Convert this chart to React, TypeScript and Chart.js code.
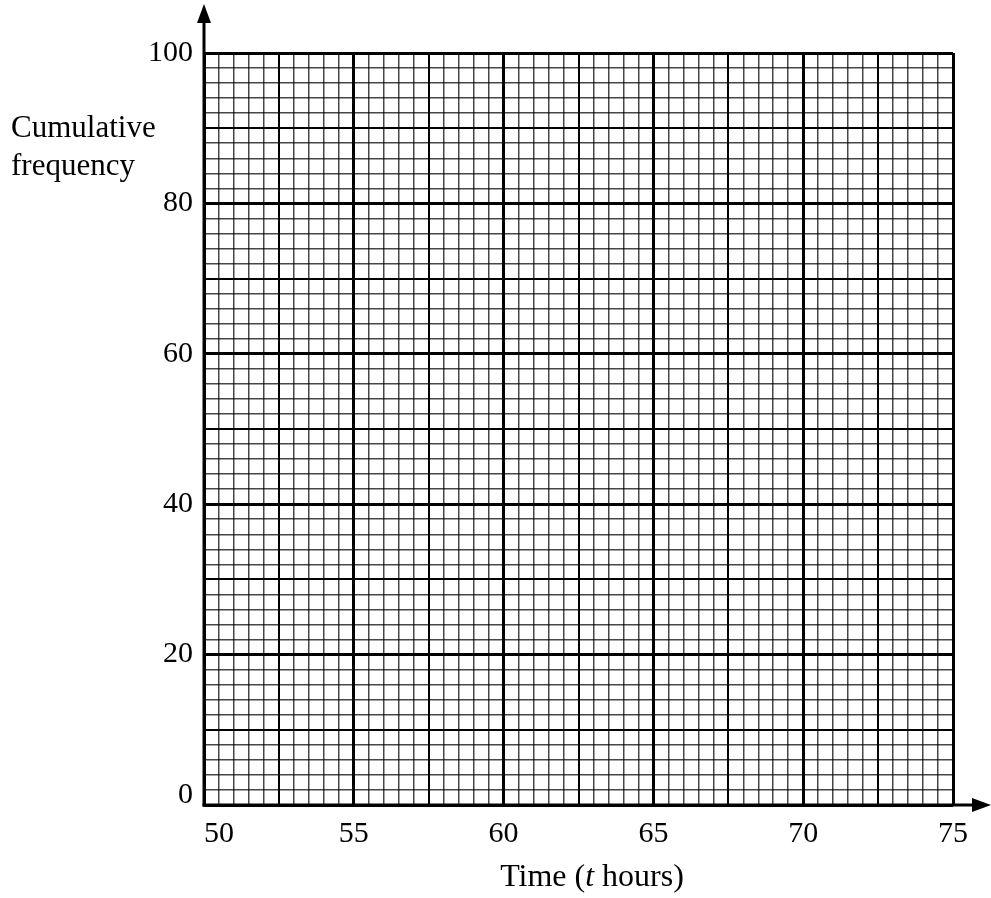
import React, { useEffect, useRef } from 'react';
import { Chart, registerables } from 'chart.js';

Chart.register(...registerables);

// Axis ranges and grid steps
const xMin = 50;
const xMax = 75;
const xMinorStep = 0.5;
const yMin = 0;
const yMax = 100;
const yMinorStep = 2;

// Labelled (major) ticks and medium grid lines
const xLabelTicks = [50, 55, 60, 65, 70, 75];
const xMediumTicks = [52.5, 57.5, 62.5, 67.5, 72.5];
const yLabelTicks = [0, 20, 40, 60, 80, 100];
const yMediumTicks = [10, 30, 50, 70, 90];

// Blank cumulative frequency graph: no plotted points
const cumulativeFrequency: { x: number; y: number }[] = [];

// Titles
const yTitleLines = ['Cumulative', 'frequency'];
const xTitleParts = ['Time (', 't', ' hours)'];

const FONT = '"Liberation Serif", "Times New Roman", serif';

const isIn = (arr: number[], v: number) => arr.some((a) => Math.abs(a - v) < 1e-6);

function gridColor(major: number[], medium: number[]) {
  return (ctx: any) => {
    const v = ctx.tick ? ctx.tick.value : NaN;
    if (isIn(major, v) || isIn(medium, v)) return '#000';
    return 'rgba(0,0,0,0.72)';
  };
}
function gridWidth(major: number[], medium: number[]) {
  return (ctx: any) => {
    const v = ctx.tick ? ctx.tick.value : NaN;
    if (isIn(major, v)) return 3;
    if (isIn(medium, v)) return 2;
    return 1.5;
  };
}

const axesPlugin = {
  id: 'axesAndTitles',
  afterDraw(chart: any) {
    const { ctx, chartArea } = chart;
    const { left, bottom } = chartArea;
    const W = chart.width;
    ctx.save();
    ctx.strokeStyle = '#000';
    ctx.fillStyle = '#000';
    ctx.lineWidth = 3;
    // y axis with arrow
    ctx.beginPath();
    ctx.moveTo(left, bottom + 1.5);
    ctx.lineTo(left, 20);
    ctx.stroke();
    ctx.beginPath();
    ctx.moveTo(left, 4);
    ctx.lineTo(left - 7, 23);
    ctx.lineTo(left + 7, 23);
    ctx.closePath();
    ctx.fill();
    // x axis with arrow
    ctx.beginPath();
    ctx.moveTo(left - 1.5, bottom);
    ctx.lineTo(W - 14, bottom);
    ctx.stroke();
    ctx.beginPath();
    ctx.moveTo(W, bottom);
    ctx.lineTo(W - 19, bottom - 7);
    ctx.lineTo(W - 19, bottom + 7);
    ctx.closePath();
    ctx.fill();

    // y title (horizontal, top-left)
    ctx.font = `31px ${FONT}`;
    ctx.textAlign = 'left';
    ctx.textBaseline = 'alphabetic';
    ctx.fillText(yTitleLines[0], 11, 137);
    ctx.fillText(yTitleLines[1], 11, 175);

    // x title with italic t
    const fonts = [`32px ${FONT}`, `italic 32px ${FONT}`, `32px ${FONT}`];
    let total = 0;
    const widths = xTitleParts.map((p, i) => {
      ctx.font = fonts[i];
      const w = ctx.measureText(p).width;
      total += w;
      return w;
    });
    let x = 592 - total / 2;
    xTitleParts.forEach((p, i) => {
      ctx.font = fonts[i];
      ctx.fillText(p, x, 886);
      x += widths[i];
    });
    ctx.restore();
  },
};

export default function App() {
  const canvasRef = useRef<HTMLCanvasElement | null>(null);

  useEffect(() => {
    document.body.style.margin = '0';
    document.body.style.background = '#fff';
    const canvas = canvasRef.current;
    if (!canvas) return;
    const chart = new Chart(canvas, {
      type: 'scatter',
      data: {
        datasets: [
          {
            label: 'Cumulative frequency',
            data: cumulativeFrequency,
            borderColor: '#000',
            backgroundColor: '#000',
          },
        ],
      },
      options: {
        animation: false,
        responsive: false,
        devicePixelRatio: 1,
        layout: { padding: { top: 53, right: 38, left: 0, bottom: 0 } },
        plugins: {
          legend: { display: false },
          tooltip: { enabled: false },
        },
        scales: {
          x: {
            type: 'linear',
            min: xMin,
            max: xMax,
            afterFit: (scale: any) => {
              scale.height = 93;
            },
            border: { display: false },
            grid: {
              drawTicks: false,
              color: gridColor(xLabelTicks, xMediumTicks),
              lineWidth: gridWidth(xLabelTicks, xMediumTicks),
            },
            ticks: {
              stepSize: xMinorStep,
              autoSkip: false,
              maxRotation: 0,
              minRotation: 0,
              padding: 11,
              color: '#000',
              font: { family: FONT, size: 30 },
              callback: (value: any) => {
                const v = Number(value);
                if (!isIn(xLabelTicks, v)) return '';
                return v === xMin ? '\u2007\u2007' + String(v) : String(v);
              },
            },
          },
          y: {
            type: 'linear',
            min: yMin,
            max: yMax,
            afterFit: (scale: any) => {
              scale.width = 204;
            },
            border: { display: false },
            grid: {
              drawTicks: false,
              color: gridColor(yLabelTicks, yMediumTicks),
              lineWidth: gridWidth(yLabelTicks, yMediumTicks),
            },
            ticks: {
              stepSize: yMinorStep,
              autoSkip: false,
              padding: 11,
              color: '#000',
              font: (ctx: any) => ({
                family: FONT,
                size: 30,
                lineHeight: ctx.tick && ctx.tick.value === yMin ? 0.667 : 1.2,
              }),
              callback: (value: any) => {
                const v = Number(value);
                if (!isIn(yLabelTicks, v)) return '';
                return v === yMin ? [String(v), ''] : String(v);
              },
            },
          },
        },
      },
      plugins: [axesPlugin],
    });
    return () => chart.destroy();
  }, []);

  return (
    <div style={{ width: 991, height: 898, overflow: 'hidden' }}>
      <canvas ref={canvasRef} width={991} height={898} style={{ display: 'block' }} />
    </div>
  );
}
